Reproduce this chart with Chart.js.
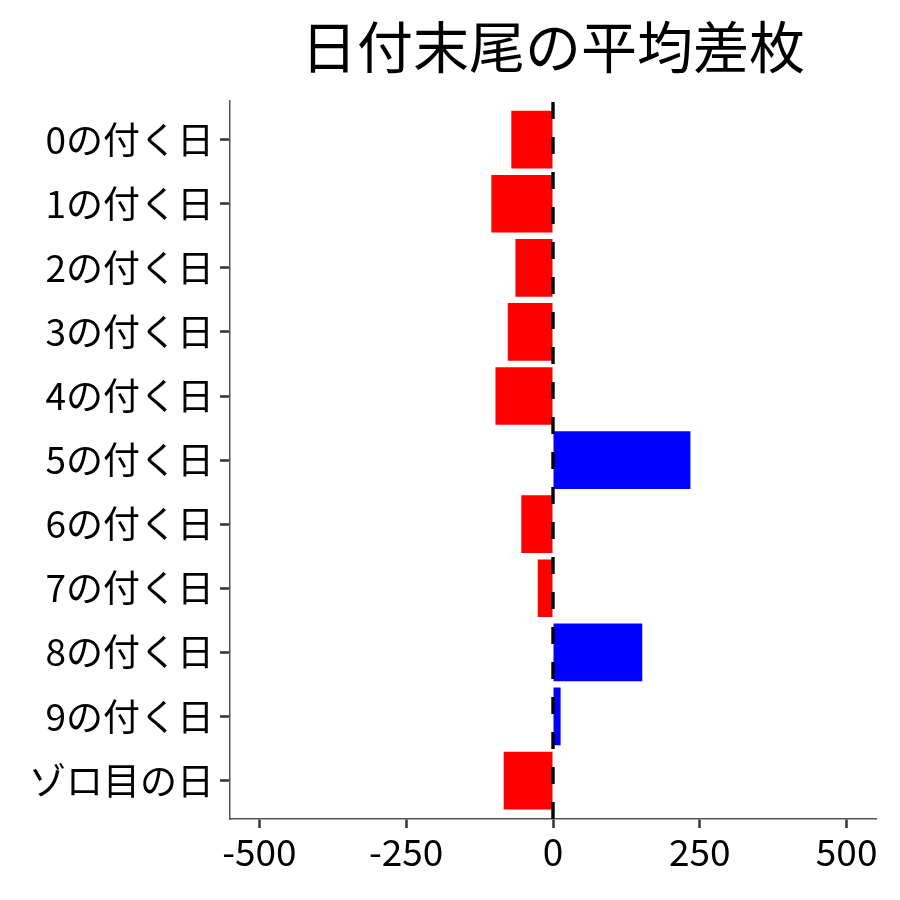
<!DOCTYPE html>
<html>
<head>
<meta charset="utf-8">
<script src="https://cdn.jsdelivr.net/npm/chart.js@4"></script>
<style>
html,body{margin:0;padding:0;background:#fff;}
#wrap{width:900px;height:900px;}
</style>
</head>
<body>
<div id="wrap"><canvas id="c" width="900" height="900"></canvas></div>
<script>
const title = "日付末尾の平均差枚";
const categories = ["0の付く日","1の付く日","2の付く日","3の付く日","4の付く日","5の付く日","6の付く日","7の付く日","8の付く日","9の付く日","ゾロ目の日"];
const diffValues = [-71, -105, -64, -77, -98, 234, -54, -26, 152, 13, -84];
const xTickValues = [-500, -250, 0, 250, 500];

const FONT = '"Noto Sans CJK JP", "Noto Sans", sans-serif';

const zeroLine = {
  id: 'zeroLine',
  afterDatasetsDraw(chart) {
    const {ctx, chartArea, scales} = chart;
    const x = scales.x.getPixelForValue(0);
    ctx.save();
    ctx.beginPath();
    ctx.setLineDash([17, 18]);
    ctx.lineWidth = 3.4;
    ctx.strokeStyle = '#000';
    ctx.moveTo(x, chartArea.bottom);
    ctx.lineTo(x, chartArea.top);
    ctx.stroke();
    ctx.restore();
  }
};

new Chart(document.getElementById('c'), {
  type: 'bar',
  data: {
    datasets: [{
      data: diffValues.map((v, i) => ({x: v, y: i + 1})),
      backgroundColor: diffValues.map(v => v < 0 ? '#FF0000' : '#0000FF'),
      borderWidth: 0,
      categoryPercentage: 1,
      barPercentage: 0.9
    }]
  },
  options: {
    indexAxis: 'y',
    responsive: false,
    animation: false,
    layout: {padding: {left: 0, right: 24, top: 0, bottom: 0}},
    plugins: {
      legend: {display: false},
      tooltip: {enabled: false},
      title: {
        display: true,
        text: title,
        fullSize: false,
        color: '#000',
        font: {family: FONT, size: 56, weight: 'normal'},
        padding: {top: 13, bottom: 21}
      }
    },
    scales: {
      x: {
        type: 'linear',
        min: -550,
        max: 550,
        afterBuildTicks: s => { s.ticks = xTickValues.map(v => ({value: v})); },
        afterFit: s => { s.height = 81; },
        border: {display: true, color: '#555', width: 1.5},
        grid: {display: true, drawOnChartArea: false, drawTicks: true, tickLength: 9, tickWidth: 2.5, tickColor: '#333'},
        ticks: {color: '#000', font: {family: FONT, size: 37}, padding: 2, maxRotation: 0}
      },
      y: {
        type: 'linear',
        reverse: true,
        offset: false,
        min: 0.4,
        max: 11.6,
        afterBuildTicks: s => { s.ticks = categories.map((c, i) => ({value: i + 1})); },
        afterFit: s => { s.width = 230; },
        border: {display: true, color: '#555', width: 1.5},
        grid: {display: true, offset: false, drawOnChartArea: false, drawTicks: true, tickLength: 10, tickWidth: 2.5, tickColor: '#333'},
        ticks: {color: '#000', font: {family: FONT, size: 37}, padding: 6,
          callback: v => categories[Math.round(v) - 1] || ''}
      }
    }
  },
  plugins: [zeroLine]
});
</script>
</body>
</html>
